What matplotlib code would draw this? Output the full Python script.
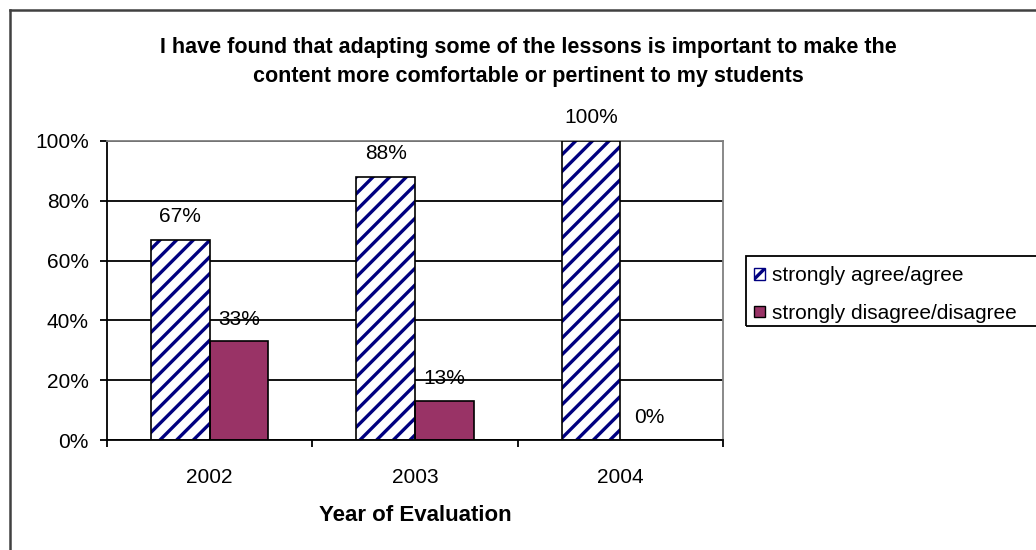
import matplotlib
matplotlib.use("Agg")
import matplotlib.pyplot as plt
from matplotlib.patches import Rectangle, Patch
from matplotlib.lines import Line2D
import numpy as np

years = ["2002", "2003", "2004"]
agree = [0.67, 0.88, 1.00]
disagree = [0.33, 0.13, 0.00]
agree_labels = ["67%", "88%", "100%"]
disagree_labels = ["33%", "13%", "0%"]
series_names = ["strongly agree/agree", "strongly disagree/disagree"]
yticks = [0, 0.2, 0.4, 0.6, 0.8, 1.0]
ytick_labels = ["0%", "20%", "40%", "60%", "80%", "100%"]
title = ("I have found that adapting some of the lessons is important to make the\n"
         "content more comfortable or pertinent to my students")
xlabel = "Year of Evaluation"

plt.rcParams['font.family'] = ['Liberation Sans', 'DejaVu Sans']
plt.rcParams['hatch.linewidth'] = 2.4

W, H = 1036, 550
fig = plt.figure(figsize=(W / 100, H / 100), dpi=100)
fig.patch.set_facecolor('white')

ax = fig.add_axes([107 / W, 110 / H, (723 - 107) / W, (440 - 141) / H])

x = np.arange(len(years))
w = 1 / 3.5
navy = '#000080'
plum = '#993366'

# agree bars: hatch in navy, then black border
ax.bar(x - w / 2, agree, w, facecolor='white', edgecolor=navy, hatch='//', linewidth=0, zorder=3)
ax.bar(x - w / 2, agree, w, facecolor='none', edgecolor='black', linewidth=1.2, zorder=4)
ax.bar(x + w / 2, disagree, w, facecolor=plum, edgecolor='black', linewidth=1.2, zorder=3)

for xi, v, lab in zip(x - w / 2, agree, agree_labels):
    ax.annotate(lab, (xi, v), xytext=(0, 17), textcoords='offset points',
                ha='center', va='center', fontsize=15, zorder=5)
for xi, v, lab in zip(x + w / 2, disagree, disagree_labels):
    ax.annotate(lab, (xi, v), xytext=(0, 16), textcoords='offset points',
                ha='center', va='center', fontsize=15, zorder=5)

ax.set_xlim(-0.5, len(years) - 0.5)
ax.set_ylim(0, 1)
ax.set_yticks(yticks)
ax.set_yticklabels(ytick_labels, fontsize=15)
ax.yaxis.grid(True, color='black', linewidth=1.3, zorder=1)
ax.set_axisbelow(True)

ax.set_xticks(np.arange(len(years) + 1) - 0.5)
ax.set_xticklabels([])
ax.set_xticks(x, minor=True)
ax.set_xticklabels(years, minor=True, fontsize=15)
ax.tick_params(axis='x', which='major', direction='out', length=5, width=1.3, color='black')
ax.tick_params(axis='x', which='minor', length=0, pad=20)
ax.tick_params(axis='y', direction='out', length=5, width=1.3, pad=8)

for s in ['left', 'bottom']:
    ax.spines[s].set_color('black')
    ax.spines[s].set_linewidth(1.3)
for s in ['top', 'right']:
    ax.spines[s].set_color('#808080')
    ax.spines[s].set_linewidth(1.3)
ax.spines['bottom'].set_zorder(6)

ax.set_xlabel(xlabel, fontsize=16, fontweight='bold', labelpad=13)

fig.text(528 / W, 1 - 62 / H, title, ha='center', va='center', fontsize=15.5,
         fontweight='bold', linespacing=1.55)

# legend
handles = [Patch(facecolor='white', edgecolor=navy, hatch='//', linewidth=1.0),
           Patch(facecolor=plum, edgecolor='black', linewidth=1.0)]
leg = fig.legend(handles, series_names, loc='upper left',
                 bbox_to_anchor=(750 / W, 1 - 262 / H), frameon=False,
                 fontsize=15, handlelength=0.5, handleheight=0.5,
                 handletextpad=0.35, labelspacing=0.9, borderaxespad=0,
                 borderpad=0.2)
fig.patches.append(Rectangle((746 / W, 1 - 326 / H), (1040 - 746) / W, (326 - 256) / H,
                             transform=fig.transFigure, facecolor='none',
                             edgecolor='black', linewidth=1.3))

# outer chart border (only top and left visible)
fig.add_artist(Line2D([9.5 / W, 9.5 / W], [0, 1 - 9.5 / H], transform=fig.transFigure,
                      color='#404040', linewidth=1.8))
fig.add_artist(Line2D([9.5 / W, 1], [1 - 9.5 / H, 1 - 9.5 / H], transform=fig.transFigure,
                      color='#404040', linewidth=1.8))

fig.savefig('out.png', dpi=100)
